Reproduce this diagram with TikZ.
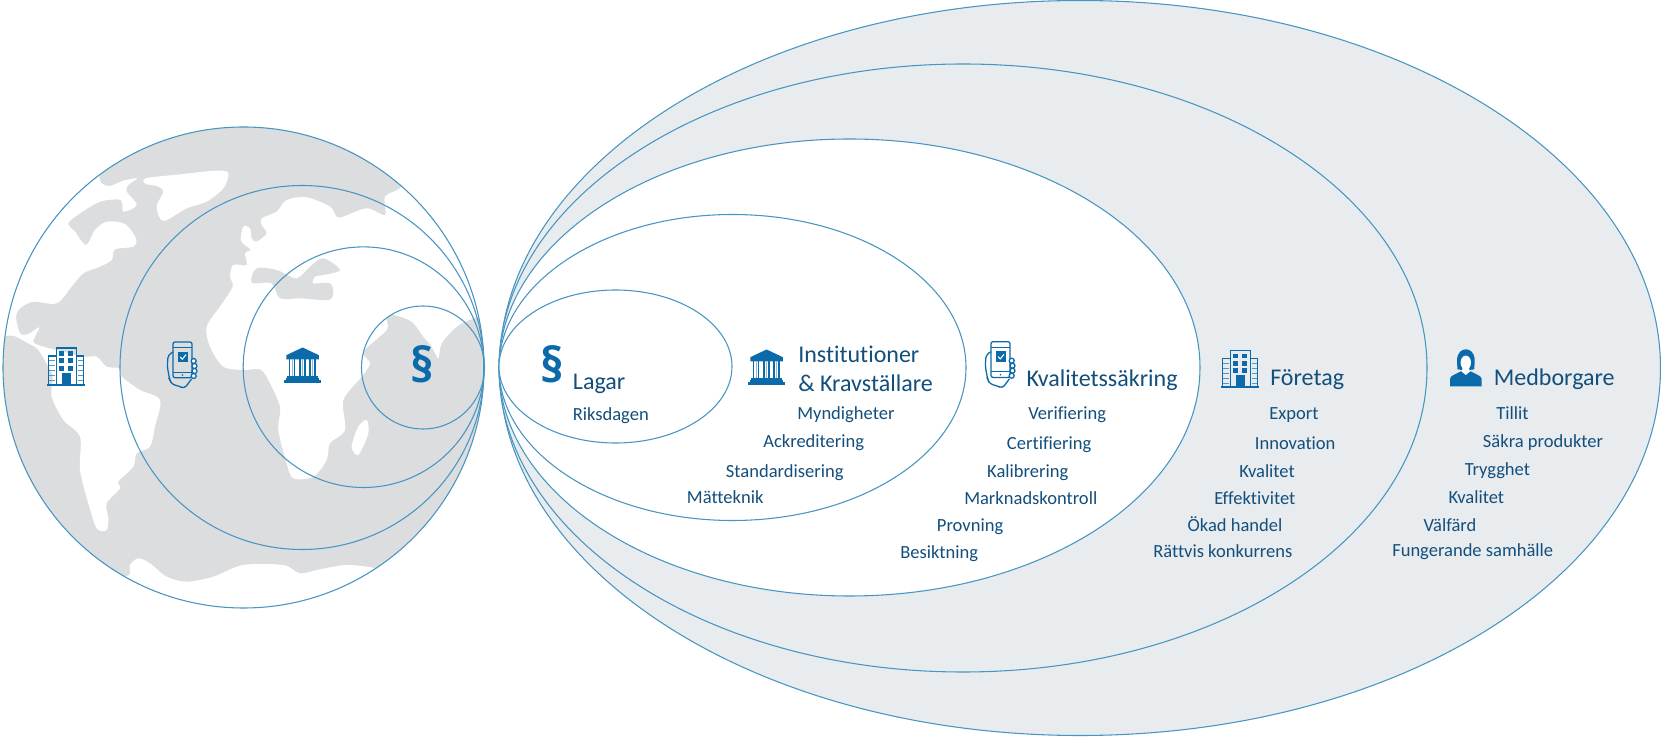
\documentclass[tikz,border=0pt]{standalone}
\usepackage{fontspec}
\setmainfont[Ligatures=NoCommon]{Carlito}
\newfontfamily\secfont{Open Sans}
\definecolor{ringc}{HTML}{4795C2}
\definecolor{oceanc}{HTML}{DCDDDF}
\definecolor{shellc}{HTML}{E9ECEF}
\definecolor{txtc}{HTML}{134F7C}
\definecolor{iconc}{HTML}{0B6BAA}
\tikzset{
  ring/.style={draw=ringc,line width=0.8pt},
  sublabel/.style={anchor=base west,inner sep=0pt,yshift=-0.75pt,text=txtc,font=\fontsize{13.9}{15}\selectfont},
  headlabel/.style={anchor=base west,inner sep=0pt,yshift=-0.6pt,text=txtc,font=\fontsize{18}{20}\selectfont},
  secmark/.style={anchor=center,inner sep=0pt,text=iconc,font=\secfont\bfseries\fontsize{36}{38}\selectfont},
  icl/.style={draw=iconc,line width=0.95pt},
  buildingicon/.pic={
    \draw[icl,line width=1.3pt] (0,37.2)--(38,37.2);
    \draw[icl] (9.3,37)--(9.3,0.6)--(29.3,0.6)--(29.3,37);
    \draw[icl] (9.3,8.5)--(1.8,8.5)--(1.8,37);
    \draw[icl] (29.3,8.5)--(36.3,8.5)--(36.3,37);
    \foreach \yy in {13,18,23,28,33}{
      \draw[draw=iconc!70,line width=0.6pt] (1.8,\yy)--(7.5,\yy);
      \draw[draw=iconc!70,line width=0.6pt] (31,\yy)--(36.3,\yy);
    }
    \foreach \yy in {3.6,11,18.4}{
      \fill[iconc] (12.4,\yy) rectangle (17.2,\yy+4.8);
      \fill[iconc] (20.9,\yy) rectangle (25.7,\yy+4.8);
    }
    \fill[iconc] (14.7,25.5) rectangle (23.5,37);
  },
  phoneicon/.pic={
    \draw[icl,rounded corners=1.5] (6,0) rectangle (25,35.7);
    \draw[icl,line width=0.7pt] (6,5.5)--(25,5.5) (6,30)--(25,30);
    \fill[iconc] (11,9.7) rectangle (21,20);
    \draw[white,line width=0.8pt] (13,15)--(15.3,17.2)--(19,12.6);
    \fill[iconc] (15.5,33) circle (0.9);
    \draw[icl,rounded corners=2.5] (6,10)--(1,13)--(0.3,25)--(2.8,38)--(5,42.5)--(12,44)--(17,46.7)--(20.5,42.5)--(24.5,37);
    \foreach \xx/\yy in {26.7/19,27.5/24,27.5/29,26.7/34}{
      \draw[icl,fill=white] (\xx,\yy) circle (2.5);
    }
  },
  bankicon/.pic={
    \fill[iconc] (18.6,0)--(2.3,7.7)--(2.3,12)--(34.9,12)--(34.9,7.7)--cycle;
    \foreach \xx in {5.7,15.9,26.1}{
      \draw[icl] (\xx,12)--(\xx,28.7) (\xx+5,12)--(\xx+5,28.7);
      \draw[draw=iconc!45,line width=0.9pt] (\xx+2.5,12)--(\xx+2.5,28.7);
    }
    \fill[iconc] (3.3,28.7) rectangle (33.9,30.7);
    \fill[iconc] (0,32.4) rectangle (37.2,35.8);
    \fill[iconc] (2,30.7) rectangle (35.2,32.4);
  },
  personicon/.pic={
    \fill[iconc] (0,37)--(0,29.5) .. controls (0.5,26) and (6,25) .. (11,22)--(15.8,26)--(20.5,22) .. controls (25.5,25) and (31,26) .. (31.7,29.5)--(31.7,37)--cycle;
    \fill[iconc] (7.5,20) .. controls (7.5,17) and (6.8,14) .. (7,11) .. controls (7.2,3) and (12,0) .. (15.8,0) .. controls (20,0) and (24.5,3) .. (24.7,11) .. controls (24.8,14) and (24.2,17) .. (24.2,20) .. controls (21,21) and (11,21) .. (7.5,20) -- cycle;
    \fill[white] (15.8,13.3) ellipse [x radius=5.2,y radius=7];
    \fill[white] (12.5,18)--(19,18)--(19.6,22)--(15.8,25)--(12,22)--cycle;
  }
}
\begin{document}
\begin{tikzpicture}[x=0.75pt,y=-0.75pt]
\path[use as bounding box] (0,0) rectangle (1661,737);
% world disc
\begin{scope}
  \clip (243.5,367.5) circle (240.5);
  \fill[oceanc] (243.5,367.5) circle (240.5);
  \begin{scope}[x=0.25pt,y=-0.25pt,shift={(0,330)}]
    % upper left and south
    \fill[white] plot[smooth cycle,tension=0.5] coordinates {
      (290,130)(298,200)(305,220)(330,228)(370,212)(412,205)(385,225)(380,245)(410,285)(370,305)(362,270)(300,275)(240,310)(205,340)(225,365)(258,405)(285,360)(320,335)(375,342)(408,385)(400,410)(345,418)(335,450)(300,470)(250,490)(215,530)(170,580)(100,575)(60,595)(48,620)(60,670)(85,672)(118,652)(100,695)(130,710)(170,720)(250,740)(290,740)(320,770)(360,775)(365,800)(420,840)(480,870)(465,950)(450,1010)(410,1030)(400,1070)(355,1115)(360,1135)(320,1180)(325,1225)(320,1260)(290,1255)(265,1180)(240,1080)(240,980)(190,930)(155,860)(158,800)(145,770)(115,720)(85,700)(40,677)(12,680)(-40,690)(-60,500)(0,300)(100,180)};
    % Greenland
    \fill[white] plot[smooth cycle,tension=0.5] coordinates {
      (437,205)(540,193)(650,182)(685,190)(670,235)(620,275)(560,295)(490,333)(470,290)(490,245)(470,228)(437,222)};
    % Eurasia and Africa
    \fill[white] plot[smooth cycle,tension=0.5] coordinates {
      (1200,235)(1155,260)(1155,315)(1100,295)(1030,320)(1010,320)(990,290)(920,262)(860,270)(830,305)(785,325)(785,345)(800,370)(770,395)(755,385)(750,355)(730,350)(722,390)(735,405)(752,420)(735,430)(740,465)(700,465)(690,500)(698,530)(660,590)(620,650)(630,710)(670,770)(730,780)(780,778)(805,810)(840,890)(835,960)(860,1060)(880,1105)(940,1100)(980,1050)(990,1000)(1035,960)(1030,870)(1085,800)(1110,760)(1090,725)(1160,660)(1160,625)(1180,615)(1235,635)(1270,680)(1295,710)(1315,745)(1325,700)(1370,650)(1420,625)(1480,600)(1520,400)(1400,200)(1250,180)};
    % Mediterranean
    \fill[oceanc] plot[smooth cycle,tension=0.5] coordinates {
      (755,518)(770,475)(830,480)(890,505)(930,470)(970,445)(1020,480)(970,495)(945,500)(940,520)(990,520)(1000,550)(985,570)(900,565)(840,565)(815,520)};
    % Madagascar
    \fill[white] plot[smooth cycle,tension=0.5] coordinates {
      (1100,930)(1105,970)(1075,1035)(1055,1010)(1075,950)};
    % Antarctica
    \fill[white] plot[smooth cycle,tension=0.5] coordinates {
      (388,1395)(390,1365)(415,1345)(450,1360)(500,1400)(560,1415)(640,1400)(730,1365)(850,1365)(900,1390)(960,1378)(1040,1365)(1130,1375)(1200,1400)(1000,1600)(600,1600)(350,1420)};
  \end{scope}
\end{scope}
\draw[ring] (243.5,367.5) circle (240.5);
\draw[ring] (302,367.5) circle (182);
\draw[ring] (363.5,367.2) circle (120.3);
\draw[ring] (423,367.5) circle (61.5);
% nested ellipses
\draw[ring,fill=shellc] (1080,368) ellipse [x radius=580.5,y radius=367.5];
\draw[ring,fill=shellc] (963,368) ellipse [x radius=464,y radius=304];
\draw[ring,fill=white] (849.5,367.5) ellipse [x radius=350.5,y radius=228.5];
\draw[ring,fill=white] (732.5,367.5) ellipse [x radius=233.5,y radius=153];
\draw[ring,fill=white] (615.5,366.5) ellipse [x radius=116.5,y radius=76.5];
% icons
\pic at (47,347.5) {buildingicon};
\pic at (167,342) {phoneicon};
\pic at (284,347.5) {bankicon};
\node[secmark] (secmap) at (422,364) {§};
\node[secmark] (seclaw) at (552,364) {§};
\pic at (748,349.5) {bankicon};
\pic at (985,341.7) {phoneicon};
\pic at (1221,350) {buildingicon};
\pic at (1450,349.3) {personicon};
% labels
\node[headlabel] (lagar) at (572.7,389) {Lagar};
\node[sublabel] (riks) at (572.5,420) {Riksdagen};
\node[headlabel] (inst) at (798,361.7) {Institutioner};
\node[headlabel] (krav) at (798,391) {\& Kravställare};
\node[sublabel] (mynd) at (797,418.7) {Myndigheter};
\node[sublabel] (ackr) at (763,447) {Ackreditering};
\node[sublabel] (stan) at (725.7,476.7) {Standardisering};
\node[sublabel] (matt) at (686.7,503) {Mätteknik};
\node[headlabel] (kval) at (1026.4,385.7) {Kvalitetssäkring};
\node[sublabel] (veri) at (1028,419) {Verifiering};
\node[sublabel] (cert) at (1006.7,449) {Certifiering};
\node[sublabel] (kali) at (986.9,476.7) {Kalibrering};
\node[sublabel] (mark) at (964,504) {Marknadskontroll};
\node[sublabel] (prov) at (936.7,531) {Provning};
\node[sublabel] (besi) at (900,558) {Besiktning};
\node[headlabel] (fore) at (1270,385) {Företag};
\node[sublabel] (expo) at (1269,419) {Export};
\node[sublabel] (inno) at (1254.6,449) {Innovation};
\node[sublabel] (kvf) at (1239,476.7) {Kvalitet};
\node[sublabel] (effe) at (1214,504) {Effektivitet};
\node[sublabel] (okad) at (1187.4,530.7) {Ökad handel};
\node[sublabel] (ratt) at (1153,556.7) {Rättvis konkurrens};
\node[headlabel] (medb) at (1493.6,385) {Medborgare};
\node[sublabel] (till) at (1496,419) {Tillit};
\node[sublabel] (sakr) at (1482.7,446.7) {Säkra produkter};
\node[sublabel] (tryg) at (1464.5,475) {Trygghet};
\node[sublabel] (kvm) at (1448.3,502.3) {Kvalitet};
\node[sublabel] (valf) at (1423.4,530.7) {Välfärd};
\node[sublabel] (fung) at (1392,556) {Fungerande samhälle};
\end{tikzpicture}
\end{document}
